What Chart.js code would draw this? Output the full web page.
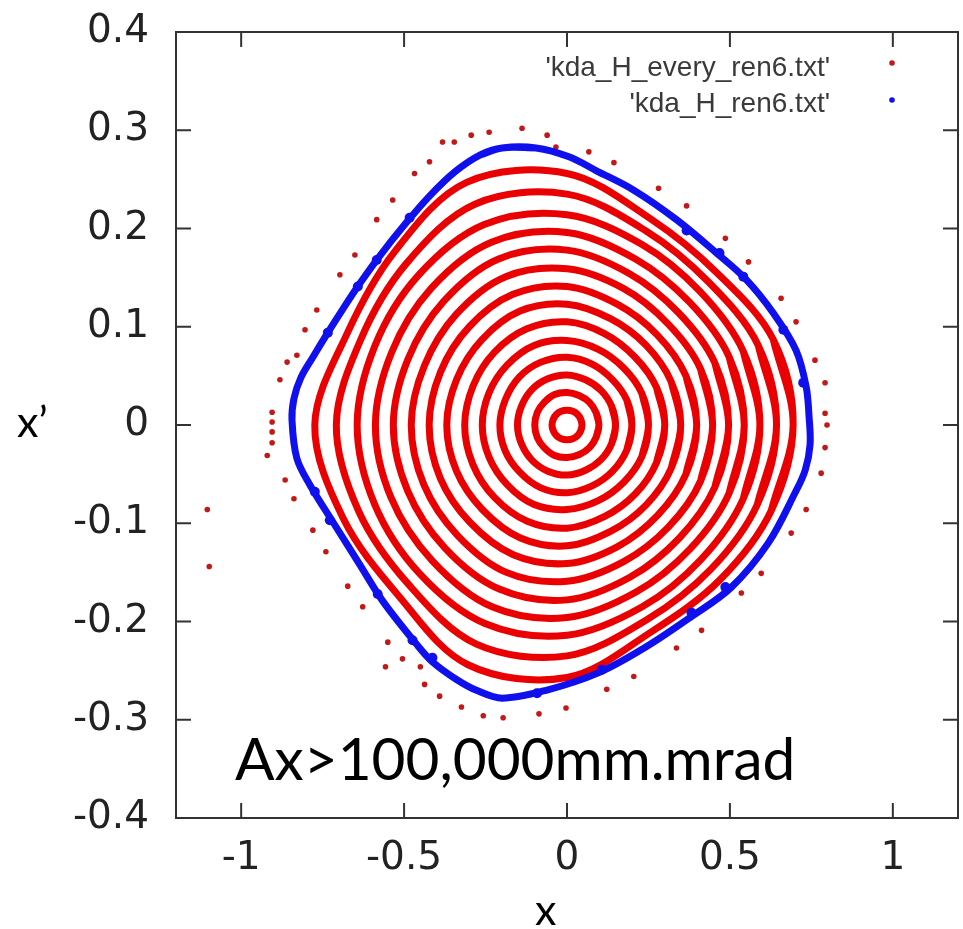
<!DOCTYPE html>
<html>
<head>
<meta charset="utf-8">
<script src="https://cdn.jsdelivr.net/npm/chart.js@4.4.1/dist/chart.umd.min.js"></script>
<style>
  html, body { margin: 0; padding: 0; background: #fff; }
  #phaseChart { display: block; }
</style>
</head>
<body>
<canvas id="phaseChart" width="963" height="929"></canvas>
<script>
const xTicks = [-1, -0.5, 0, 0.5, 1];
const xTickLabels = ['-1', '-0.5', '0', '0.5', '1'];
const yTicks = [-0.4, -0.3, -0.2, -0.1, 0, 0.1, 0.2, 0.3, 0.4];
const yTickLabels = ['-0.4', '-0.3', '-0.2', '-0.1', '0', '0.1', '0.2', '0.3', '0.4'];
const seriesLabels = ["'kda_H_every_ren6.txt'", "'kda_H_ren6.txt'"];
const noteText = 'Ax>100,000mm.mrad';
const xTitle = 'x';
const yTitle = 'x\u2019';

// red tracks, innermost first; [x, x'] going round anticlockwise from the right
const redRings = [
  [[0.046,0],[0.042,0.006],[0.032,0.011],[0.018,0.014],[0,0.015],[-0.018,0.014],[-0.032,0.011],[-0.042,0.006],[-0.046,0],[-0.042,-0.006],[-0.032,-0.011],[-0.018,-0.014],[0,-0.015],[0.018,-0.014],[0.032,-0.011],[0.042,-0.006]],
  [[0.098,0],[0.090,0.012],[0.069,0.023],[0.037,0.030],[0,0.033],[-0.038,0.031],[-0.070,0.023],[-0.091,0.013],[-0.099,0],[-0.091,-0.013],[-0.070,-0.023],[-0.038,-0.031],[0,-0.033],[0.038,-0.030],[0.069,-0.023],[0.090,-0.012]],
  [[0.149,0],[0.137,0.019],[0.105,0.035],[0.057,0.046],[0,0.051],[-0.059,0.047],[-0.108,0.036],[-0.140,0.019],[-0.152,0],[-0.140,-0.019],[-0.107,-0.036],[-0.059,-0.047],[0,-0.051],[0.057,-0.046],[0.105,-0.035],[0.137,-0.019]],
  [[0.199,0],[0.184,0.025],[0.140,0.046],[0.077,0.062],[0,0.069],[-0.080,0.064],[-0.146,0.049],[-0.189,0.026],[-0.206,0],[-0.190,-0.026],[-0.145,-0.048],[-0.080,-0.064],[0,-0.069],[0.077,-0.062],[0.140,-0.047],[0.184,-0.025]],
  [[0.250,0],[0.230,0.032],[0.174,0.058],[0.096,0.077],[0,0.086],[-0.101,0.081],[-0.184,0.061],[-0.239,0.033],[-0.260,0],[-0.239,-0.033],[-0.183,-0.061],[-0.101,-0.081],[0,-0.086],[0.096,-0.077],[0.175,-0.058],[0.230,-0.032]],
  [[0.300,0],[0.275,0.038],[0.209,0.069],[0.115,0.093],[0,0.105],[-0.123,0.098],[-0.223,0.074],[-0.288,0.040],[-0.314,0],[-0.289,-0.040],[-0.222,-0.074],[-0.122,-0.098],[0,-0.105],[0.116,-0.093],[0.210,-0.070],[0.275,-0.038]],
  [[0.349,0],[0.320,0.044],[0.243,0.081],[0.135,0.108],[0,0.123],[-0.144,0.116],[-0.261,0.087],[-0.338,0.047],[-0.369,0],[-0.339,-0.047],[-0.260,-0.086],[-0.143,-0.115],[0,-0.123],[0.135,-0.108],[0.244,-0.081],[0.320,-0.044]],
  [[0.398,0],[0.365,0.050],[0.276,0.092],[0.154,0.123],[0,0.141],[-0.166,0.133],[-0.300,0.100],[-0.388,0.054],[-0.423,0],[-0.389,-0.054],[-0.298,-0.099],[-0.165,-0.132],[0,-0.141],[0.154,-0.124],[0.278,-0.092],[0.365,-0.050]],
  [[0.447,0],[0.410,0.057],[0.310,0.103],[0.173,0.139],[0,0.159],[-0.188,0.151],[-0.339,0.113],[-0.438,0.060],[-0.478,0],[-0.439,-0.061],[-0.337,-0.112],[-0.186,-0.150],[0,-0.159],[0.174,-0.139],[0.311,-0.104],[0.410,-0.057]],
  [[0.496,0],[0.454,0.063],[0.343,0.114],[0.192,0.154],[0,0.178],[-0.210,0.169],[-0.378,0.126],[-0.488,0.067],[-0.533,0],[-0.489,-0.067],[-0.375,-0.125],[-0.208,-0.167],[0,-0.178],[0.193,-0.155],[0.345,-0.115],[0.454,-0.063]],
  [[0.544,0],[0.498,0.069],[0.376,0.125],[0.210,0.169],[0,0.196],[-0.232,0.186],[-0.417,0.139],[-0.538,0.074],[-0.588,0],[-0.540,-0.074],[-0.414,-0.138],[-0.230,-0.185],[0,-0.196],[0.212,-0.170],[0.378,-0.126],[0.498,-0.069]],
  [[0.592,0],[0.541,0.075],[0.408,0.136],[0.229,0.184],[0,0.214],[-0.254,0.204],[-0.457,0.152],[-0.589,0.081],[-0.644,0],[-0.590,-0.081],[-0.453,-0.151],[-0.252,-0.202],[0,-0.214],[0.231,-0.185],[0.411,-0.137],[0.541,-0.075]],
  [[0.643,0],[0.587,0.081],[0.436,0.145],[0.245,0.197],[0,0.235],[-0.281,0.225],[-0.494,0.164],[-0.633,0.087],[-0.708,0],[-0.639,-0.088],[-0.487,-0.162],[-0.278,-0.223],[0,-0.235],[0.246,-0.198],[0.441,-0.147],[0.584,-0.081]],
  [[0.694,0],[0.633,0.087],[0.463,0.154],[0.260,0.209],[0,0.256],[-0.308,0.247],[-0.530,0.176],[-0.675,0.093],[-0.774,0],[-0.687,-0.095],[-0.519,-0.173],[-0.304,-0.244],[0,-0.257],[0.261,-0.210],[0.471,-0.157],[0.627,-0.087]]
];

// lost particles of the red file, outside the last closed track
const redStray = [
  [-0.382,0.288],[-0.346,0.288],[-0.294,0.295],[-0.239,0.298],[-0.138,0.302],[-0.061,0.295],[-0.034,0.283],
  [0.067,0.278],[0.144,0.267],[0.281,0.241],[0.367,0.223],[0.486,0.190],[0.557,0.166],[0.657,0.129],
  [0.703,0.105],[0.761,0.066],[0.792,0.043],[0.792,0.012],[0.798,0.000],[0.792,-0.023],[0.780,-0.049],
  [0.734,-0.086],[0.688,-0.110],[0.596,-0.151],[0.535,-0.171],[0.413,-0.209],[0.336,-0.227],[0.205,-0.256],
  [0.122,-0.269],[-0.003,-0.288],[-0.086,-0.294],[-0.196,-0.298],[-0.257,-0.296],[-0.324,-0.287],
  [-0.391,-0.276],[-0.437,-0.264],[-0.450,-0.246],[-0.557,-0.246],[-0.505,-0.238],[-0.550,-0.221],
  [-0.627,-0.185],[-0.673,-0.164],[-0.740,-0.129],[-0.780,-0.107],[-0.838,-0.075],[-0.865,-0.056],
  [-0.920,-0.031],[-0.905,-0.018],[-0.905,-0.007],[-0.905,0.003],[-0.905,0.013],[-0.881,0.046],
  [-0.859,0.064],[-0.829,0.071],[-0.804,0.097],[-0.768,0.117],[-0.697,0.153],[-0.651,0.173],
  [-0.584,0.209],[-0.535,0.229],[-0.468,0.256],[-0.422,0.268],[-1.104,-0.086],[-1.098,-0.144]
];

// blue track, clockwise from the top
const blueRing = [
  [-0.199,0.282],[-0.095,0.282],[0.006,0.273],[0.089,0.259],[0.205,0.239],[0.336,0.209],[0.459,0.175],
  [0.550,0.148],[0.633,0.114],[0.703,0.076],[0.734,0.039],[0.743,0.008],[0.746,-0.020],[0.731,-0.046],
  [0.700,-0.069],[0.618,-0.120],[0.505,-0.165],[0.382,-0.195],[0.242,-0.226],[0.098,-0.252],
  [-0.064,-0.270],[-0.199,-0.278],[-0.278,-0.270],[-0.339,-0.259],[-0.413,-0.241],[-0.462,-0.223],
  [-0.566,-0.179],[-0.636,-0.142],[-0.716,-0.100],[-0.789,-0.061],[-0.829,-0.034],[-0.844,0.005],
  [-0.838,0.027],[-0.817,0.048],[-0.780,0.069],[-0.734,0.094],[-0.688,0.118],[-0.636,0.144],
  [-0.575,0.172],[-0.498,0.204],[-0.422,0.233],[-0.343,0.258],[-0.266,0.275]
];

// thicker clumps along the blue track
const blueBlobs = [
  [-0.483,0.211],[-0.584,0.168],[-0.642,0.141],[-0.734,0.094],[-0.774,-0.068],[-0.728,-0.097],
  [-0.581,-0.172],[-0.474,-0.219],[-0.413,-0.237],[-0.092,-0.273],[0.107,-0.249],[0.382,-0.191],
  [0.486,-0.165],[0.664,0.097],[0.725,0.043],[0.541,0.151],[0.367,0.198],[0.468,0.175]
];

const RED = '#ea0000';
const RED_DOT = '#c41818';
const BLUE = '#1010ee';

function toPoints(pairs) {
    return pairs.map(p => ({ x: p[0], y: p[1] }));
}

// wrap one point on each side so the smoothed curve closes without a kink
function closed(pairs) {
    return toPoints([pairs[pairs.length - 1], ...pairs, pairs[0], pairs[1]]);
}

const datasets = [];
datasets.push({
    label: seriesLabels[1], data: closed(blueRing), showLine: true,
    borderColor: BLUE, borderWidth: 7, pointRadius: 0, tension: 0.35,
    borderJoinStyle: 'round', borderCapStyle: 'round', order: 0
});
datasets.push({
    label: seriesLabels[1], data: toPoints(blueBlobs), pointRadius: 5,
    backgroundColor: BLUE, borderWidth: 0, order: 0
});
redRings.forEach(ring => {
    datasets.push({
        label: seriesLabels[0], data: closed(ring), showLine: true,
        borderColor: RED, borderWidth: 7, pointRadius: 0, tension: 0.34,
        borderJoinStyle: 'round', borderCapStyle: 'round', order: 1
    });
});
datasets.push({
    label: seriesLabels[0], data: toPoints(redStray), pointRadius: 2.8,
    backgroundColor: RED_DOT, borderWidth: 0, order: 1
});

// gnuplot style frame: box, inward ticks on all sides, key and notes
const framePlugin = {
    id: 'frame',
    afterDatasetsDraw(chart) {
        const { ctx, chartArea: a, scales } = chart;
        ctx.save();
        ctx.strokeStyle = '#333';
        ctx.lineWidth = 2;
        ctx.strokeRect(a.left, a.top, a.right - a.left, a.bottom - a.top);
        ctx.beginPath();
        xTicks.forEach(v => {
            const px = scales.x.getPixelForValue(v);
            ctx.moveTo(px, a.bottom); ctx.lineTo(px, a.bottom - 15);
            ctx.moveTo(px, a.top); ctx.lineTo(px, a.top + 15);
        });
        yTicks.forEach(v => {
            const py = scales.y.getPixelForValue(v);
            ctx.moveTo(a.left, py); ctx.lineTo(a.left + 15, py);
            ctx.moveTo(a.right, py); ctx.lineTo(a.right - 15, py);
        });
        ctx.stroke();

        // key
        ctx.font = '28px "Liberation Sans"';
        ctx.fillStyle = '#3a3a3a';
        ctx.textAlign = 'right';
        ctx.textBaseline = 'alphabetic';
        ctx.fillText(seriesLabels[0], 830, 76);
        ctx.fillText(seriesLabels[1], 830, 112);
        ctx.fillStyle = RED_DOT;
        ctx.beginPath(); ctx.arc(892, 63, 2.8, 0, Math.PI * 2); ctx.fill();
        ctx.fillStyle = BLUE;
        ctx.beginPath(); ctx.arc(892, 100, 2.8, 0, Math.PI * 2); ctx.fill();

        // slide annotations
        ctx.fillStyle = '#000';
        ctx.textAlign = 'left';
        ctx.font = '58.5px Lato';
        ctx.fillText(noteText, 235, 780);
        ctx.font = '43px Lato';
        ctx.fillText(yTitle, 17, 437);
        ctx.fillText(xTitle, 535, 925);
        ctx.restore();
    }
};

const tickFont = { family: 'DejaVu Sans', size: 39 };

new Chart(document.getElementById('phaseChart').getContext('2d'), {
    type: 'scatter',
    data: { datasets: datasets },
    options: {
        responsive: false,
        animation: false,
        devicePixelRatio: 1,
        events: [],
        layout: { padding: { left: 0, top: 32, right: 3, bottom: 0 } },
        plugins: {
            legend: { display: false },
            tooltip: { enabled: false }
        },
        scales: {
            x: {
                type: 'linear', min: -1.2, max: 1.2,
                grid: { display: false }, border: { display: false },
                afterBuildTicks: s => { s.ticks = xTicks.map(v => ({ value: v })); },
                afterFit: s => { s.height = 111; s.paddingLeft = 0; s.paddingRight = 0; },
                ticks: {
                    padding: 9, color: '#222', font: tickFont, autoSkip: false, maxRotation: 0,
                    callback: (v, i) => xTickLabels[i]
                }
            },
            y: {
                type: 'linear', min: -0.4, max: 0.4,
                grid: { display: false }, border: { display: false },
                afterBuildTicks: s => { s.ticks = yTicks.map(v => ({ value: v })); },
                afterFit: s => { s.width = 176; s.paddingTop = 0; s.paddingBottom = 0; },
                ticks: {
                    padding: 19, color: '#222', font: tickFont, autoSkip: false,
                    callback: (v, i) => yTickLabels[i]
                }
            }
        }
    },
    plugins: [framePlugin]
});
</script>
</body>
</html>
